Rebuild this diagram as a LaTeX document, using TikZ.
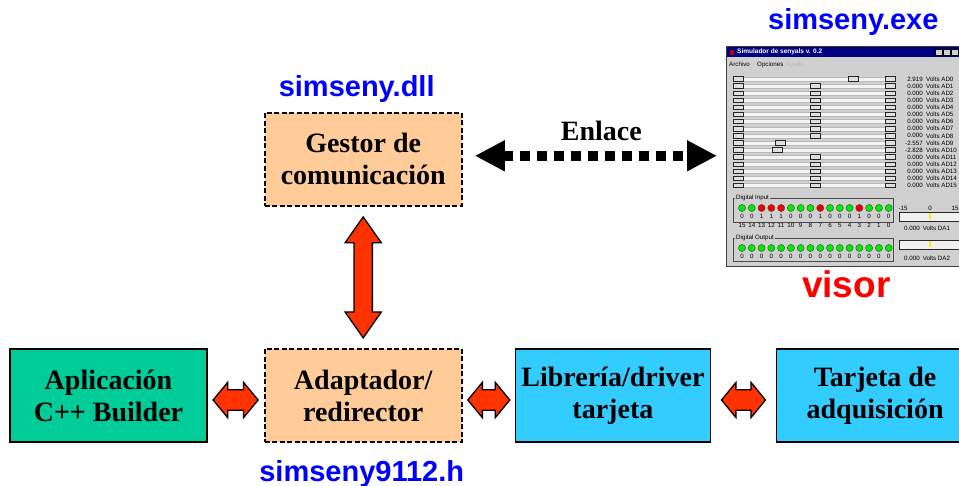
\documentclass[tikz,border=0pt]{standalone}
\usepackage{fontspec}
\setmainfont{Liberation Serif}
\setsansfont{Liberation Sans}
\usetikzlibrary{positioning,shapes.arrows,arrows.meta}

\definecolor{peach}{HTML}{FFCC99}
\definecolor{appgreen}{HTML}{00CC99}
\definecolor{libcyan}{HTML}{33CCFF}
\definecolor{arrowred}{HTML}{FF3300}
\definecolor{labelblue}{HTML}{0000FF}
\definecolor{visorred}{HTML}{FF0000}
\definecolor{winface}{HTML}{D0D0D0}
\definecolor{titleblue}{HTML}{000080}
\definecolor{ledgreen}{HTML}{00E800}
\definecolor{ledred}{HTML}{F00000}
\definecolor{tick}{HTML}{F0F000}

\newcommand\boxfont{\fontsize{28}{32}\selectfont\bfseries}
\newcommand\labfont{\sffamily\bfseries\fontsize{29}{32}\selectfont}
\newcommand\visorfont{\sffamily\bfseries\fontsize{37}{40}\selectfont}
\newcommand\wfont{\sffamily\fontsize{6.2}{7}\selectfont}
\newcommand\titlefont{\sffamily\bfseries\fontsize{6.5}{7}\selectfont}

\tikzset{
  blk/.style={draw=black, line width=1.2pt, minimum width=197pt, minimum height=93pt,
    inner sep=0pt, align=center, font=\boxfont},
  greenbox/.style={blk, fill=appgreen},
  cyanbox/.style={blk, fill=libcyan},
  peachbox/.style={blk, fill=peach, line width=2.2pt, dash pattern=on 5pt off 2.5pt},
  fatarrow/.style={double arrow, draw=black, fill=arrowred, line width=1.3pt,
    inner xsep=0pt, inner ysep=9.5pt, double arrow head extend=7.5pt,
    double arrow head indent=0pt, double arrow tip angle=101},
  linkarrow/.style={line width=10pt, dash pattern=on 10pt off 7pt,
    {Triangle[length=30pt,width=29pt]}-{Triangle[length=30pt,width=29pt]}},
  fname/.style={font=\labfont, text=labelblue, inner sep=0pt, anchor=base},
  winbox/.style={fill=winface, draw=gray!50!black, line width=.6pt, inner sep=0pt,
    minimum width=240pt, minimum height=220pt},
  wtxt/.style={font=\wfont, inner sep=0pt},
  track/.style={fill=gray!8, draw=gray!55, line width=.3pt},
  knob/.style={fill=gray!25, draw=gray!30!black, line width=.3pt},
  grp/.style={draw=gray!60!black, line width=.4pt},
  led/.style={draw=gray!40!black, line width=.3pt},
}

\begin{document}
\begin{tikzpicture}[x=1pt, y=-1pt]
  \useasboundingbox (0,0) rectangle (959,486);

  % blocks
  \node[greenbox] (app) at (108.5,395.5) {Aplicación\\C++ Builder};
  \node[peachbox, right=56pt of app] (adapt) {Adaptador/\\redirector};
  \node[cyanbox, right=52pt of adapt, minimum width=195pt] (lib) {Librería/driver\\tarjeta};
  \node[cyanbox, right=65pt of lib] (tarj) {Tarjeta de\\adquisición};
  \node[peachbox, above=141pt of adapt] (gestor) {Gestor de\\comunicación};

  % file names
  \node[fname] (dll) at ([xshift=-6.5pt, yshift=15pt]gestor.north) {simseny.dll};
  \node[fname] (hdr) at ([xshift=-1.5pt, yshift=-38pt]adapt.south) {simseny9112.h};

  % visor window
  \node[winbox, anchor=north west] (visorwin) at (726,46) {};
  \node[fname] (exe) at ([xshift=7pt, yshift=16pt]visorwin.north) {simseny.exe};
  \node[fname, font=\visorfont, text=visorred] (vis) at ([yshift=-31pt]visorwin.south) {visor};

  \fill[titleblue] (727,47) rectangle (966,57);
  \fill[red!70!black] (729.5,50) rectangle (733.5,55);
  \node[wtxt, font=\titlefont, text=white, anchor=west] (ttl) at (737,52) {Simulador de senyals v. 0.2};
  \foreach \bx in {935,943,951}
    \filldraw[knob, fill=winface, draw=black] (\bx,49) rectangle (\bx+7,55.5);
  \node[wtxt, anchor=base west] (mn1) at (729,66.5) {Archivo};
  \node[wtxt, anchor=base west] (mn2) at (757,66.5) {Opciones};
  \node[wtxt, anchor=base west, text=gray!55] (mn3) at (786,66.5) {Ayuda};

  % sliders AD0..AD15
  \foreach \val/\pos [count=\i from 0] in {2.919/853,0.000/815,0.000/815,0.000/815,
      0.000/815,0.000/815,0.000/815,0.000/815,0.000/815,-2.557/780,-2.828/777,
      0.000/815,0.000/815,0.000/815,0.000/815,0.000/815}
  {
    \pgfmathsetmacro\yy{79+7.1*\i}
    \draw[track] (733,\yy-2) rectangle (895,\yy+2);
    \draw[knob] (733,\yy-2.5) rectangle (743,\yy+2);
    \draw[knob] (885,\yy-2.5) rectangle (895,\yy+2);
    \draw[knob] (\pos-5,\yy-2.5) rectangle (\pos+5,\yy+2);
    \node[wtxt, anchor=east] at (923,\yy) {\val};
    \node[wtxt, anchor=west] at (926,\yy) {Volts AD\i};
  }

  % digital input / output
  \draw[grp] (733,198) rectangle (893,222);
  \node[wtxt, fill=winface, inner xsep=1pt, anchor=west] (din) at (735,198) {Digital Input};
  \draw[grp] (733,238) rectangle (893,261);
  \node[wtxt, fill=winface, inner xsep=1pt, anchor=west] (dout) at (735,238) {Digital Output};
  \foreach \b [count=\j from 0] in {0,0,1,1,1,0,0,0,1,0,0,0,1,0,0,0}
  {
    \pgfmathsetmacro\xx{742+9.78*\j}
    \pgfmathtruncatemacro\num{15-\j}
    \ifnum\b=1 \def\ledc{ledred}\else\def\ledc{ledgreen}\fi
    \filldraw[led, fill=\ledc] (\xx,208) circle (3.6);
    \node[wtxt] at (\xx,216.5) {\b};
    \node[wtxt] at (\xx,225.5) {\num};
    \filldraw[led, fill=ledgreen] (\xx,248) circle (3.6);
    \node[wtxt] at (\xx,256) {0};
  }

  % analog outputs
  \node[wtxt] (m15) at (903,208) {-15};
  \node[wtxt] (z0) at (930,208) {0};
  \node[wtxt] (p15) at (955,208) {15};
  \draw[knob, fill=gray!12] (899,212) rectangle (966,221);
  \draw[tick, line width=1.5pt] (930,213.5) -- (930,219.5);
  \node[wtxt, anchor=west] (da1) at (904,228.5) {0.000\enspace Volts DA1};
  \draw[knob, fill=gray!12] (899,240) rectangle (966,249);
  \draw[tick, line width=1.5pt] (930,241.5) -- (930,247.5);
  \node[wtxt, anchor=west] (da2) at (904,258.5) {0.000\enspace Volts DA2};

  % connectors
  \coordinate (lnk) at ([yshift=3.5pt]gestor.east);
  \draw[linkarrow, shorten <=12pt, shorten >=9pt] (lnk) -- (lnk -| visorwin.west)
    node[midway, above=10pt, xshift=7pt, inner sep=0pt, font=\boxfont] (enl) {Enlace};
  \path (gestor.south) -- (adapt.north)
    node[midway, fatarrow, rotate=90, inner ysep=8.5pt, double arrow head extend=9pt,
      double arrow tip angle=70, minimum height=121pt] (vfat) {};
  \foreach \a/\b/\len [count=\k] in {app/adapt/45pt, adapt/lib/42pt, lib/tarj/44pt}
    \path ([yshift=-4.5pt]\a.east) -- ([yshift=-4.5pt]\b.west)
      node[midway, fatarrow, minimum height=\len] (hfat\k) {};
\end{tikzpicture}
\end{document}
